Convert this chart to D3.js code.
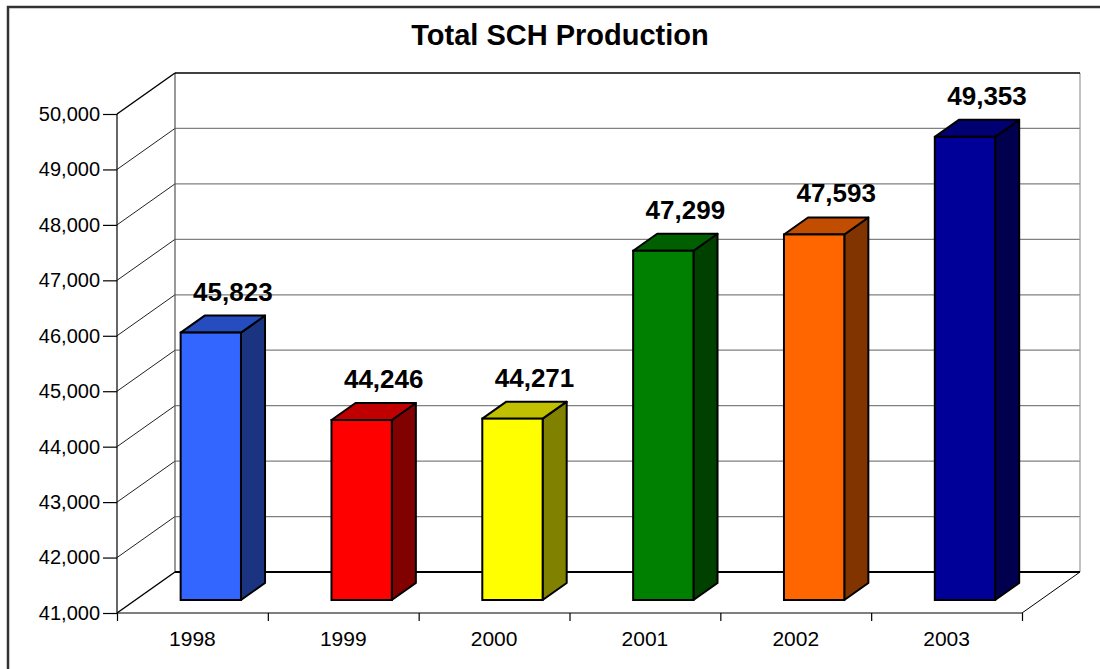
<!DOCTYPE html>
<html>
<head>
<meta charset="utf-8">
<script src="https://cdn.jsdelivr.net/npm/d3@7"></script>
<style>
  body { margin: 0; background: #fff; }
  svg { display: block; font-family: Arial, "Liberation Sans", sans-serif; }
</style>
</head>
<body>
<script>
// chart data
var years = ["1998", "1999", "2000", "2001", "2002", "2003"];
var sch = [45823, 44246, 44271, 47299, 47593, 49353];
var barColors = ["#3366FF", "#FF0000", "#FFFF00", "#008000", "#FF6600", "#000099"];
var yTicks = [41000, 42000, 43000, 44000, 45000, 46000, 47000, 48000, 49000, 50000];

var width = 1100, height = 669;

var svg = d3.select("body").append("svg")
  .attr("width", width)
  .attr("height", height);

// outer frame
svg.append("rect")
  .attr("x", 8).attr("y", 7)
  .attr("width", 1100).attr("height", 680)
  .attr("fill", "#fff")
  .attr("stroke", "#333")
  .attr("stroke-width", 2.5);

svg.append("text")
  .attr("x", 560).attr("y", 45)
  .attr("text-anchor", "middle")
  .attr("font-size", 29)
  .attr("font-weight", "bold")
  .text("Total SCH Production");

// front plane scales, depth is a fake 3d offset
var y = d3.scaleLinear().domain([41000, 50000]).range([613, 114]);
var x = d3.scaleBand().domain(years).range([117, 1022])
  .paddingInner(0.6).paddingOuter(0.3);
var xEdge = d3.scaleLinear().domain([0, years.length]).range([117, 1022]);

var depthX = 58, depthY = -41;
function off(t) { return [depthX * t, depthY * t]; }

var x0 = xEdge(0), x1 = xEdge(years.length);
var yBot = y(41000), yTop = y(50000);
var back = off(1);

// back wall + gridlines
var walls = svg.append("g");

walls.selectAll("line.grid")
  .data(yTicks.slice(1, -1))
  .enter().append("line")
  .attr("class", "grid")
  .attr("x1", x0 + back[0]).attr("x2", x1 + back[0])
  .attr("y1", d => y(d) + back[1]).attr("y2", d => y(d) + back[1])
  .attr("stroke", "#808080").attr("stroke-width", 1.2);

walls.selectAll("line.side")
  .data(yTicks.slice(1, -1))
  .enter().append("line")
  .attr("class", "side")
  .attr("x1", x0).attr("x2", x0 + back[0])
  .attr("y1", d => y(d)).attr("y2", d => y(d) + back[1])
  .attr("stroke", "#222").attr("stroke-width", 1);

// back wall edges
walls.append("line")
  .attr("x1", x0 + back[0]).attr("x2", x0 + back[0])
  .attr("y1", yTop + back[1]).attr("y2", yBot + back[1])
  .attr("stroke", "#555").attr("stroke-width", 1.2);
walls.append("line")
  .attr("x1", x1 + back[0]).attr("x2", x1 + back[0])
  .attr("y1", yTop + back[1]).attr("y2", yBot + back[1])
  .attr("stroke", "#999").attr("stroke-width", 1.2);
walls.append("line")
  .attr("x1", x0 + back[0]).attr("x2", x1 + back[0])
  .attr("y1", yTop + back[1]).attr("y2", yTop + back[1])
  .attr("stroke", "#000").attr("stroke-width", 1.5);
walls.append("line")
  .attr("x1", x0).attr("x2", x0 + back[0])
  .attr("y1", yTop).attr("y2", yTop + back[1])
  .attr("stroke", "#000").attr("stroke-width", 1.5);

// floor
walls.append("line")
  .attr("x1", x0 + back[0]).attr("x2", x1 + back[0])
  .attr("y1", yBot + back[1]).attr("y2", yBot + back[1])
  .attr("stroke", "#000").attr("stroke-width", 2);
walls.append("line")
  .attr("x1", x0).attr("x2", x0 + back[0])
  .attr("y1", yBot).attr("y2", yBot + back[1])
  .attr("stroke", "#000").attr("stroke-width", 1.5);
walls.append("line")
  .attr("x1", x1).attr("x2", x1 + back[0])
  .attr("y1", yBot).attr("y2", yBot + back[1])
  .attr("stroke", "#000").attr("stroke-width", 1);

// bars
var tFront = 13 / 41, tBack = 30 / 41;
var fo = off(tFront), bo = off(tBack);
var dx = bo[0] - fo[0], dy = bo[1] - fo[1];

var data = years.map((d, i) => ({ year: d, value: sch[i], color: barColors[i] }));

var bars = svg.append("g").selectAll("g")
  .data(data)
  .enter().append("g");

function face(d) {
  var l = x(d.year) + fo[0], r = l + x.bandwidth();
  var t = y(d.value) + fo[1], b = yBot + fo[1];
  return { l, r, t, b };
}

bars.append("path")
  .attr("d", d => {
    var f = face(d);
    return `M${f.r},${f.b}L${f.r + dx},${f.b + dy}L${f.r + dx},${f.t + dy}L${f.r},${f.t}Z`;
  })
  .attr("fill", d => d3.color(d.color).darker(1.9))
  .attr("stroke", "#000").attr("stroke-width", 2).attr("stroke-linejoin", "round");

bars.append("path")
  .attr("d", d => {
    var f = face(d);
    return `M${f.l},${f.t}L${f.l + dx},${f.t + dy}L${f.r + dx},${f.t + dy}L${f.r},${f.t}Z`;
  })
  .attr("fill", d => d3.color(d.color).darker(0.8))
  .attr("stroke", "#000").attr("stroke-width", 2).attr("stroke-linejoin", "round");

bars.append("rect")
  .attr("x", d => face(d).l)
  .attr("y", d => face(d).t)
  .attr("width", x.bandwidth())
  .attr("height", d => face(d).b - face(d).t)
  .attr("fill", d => d.color)
  .attr("stroke", "#000").attr("stroke-width", 2);

bars.append("text")
  .attr("x", d => x(d.year) + x.bandwidth() / 2 + bo[0] - 2)
  .attr("y", d => face(d).t + dy - 15)
  .attr("text-anchor", "middle")
  .attr("font-size", 26)
  .attr("font-weight", "bold")
  .text(d => d3.format(",")(d.value));

// axes on the front plane
var yAxis = svg.append("g")
  .attr("transform", `translate(${x0},0)`)
  .call(d3.axisLeft(y).tickValues(yTicks).tickSize(14).tickPadding(3)
    .tickFormat(d3.format(",")));
yAxis.selectAll("text").attr("font-size", 20).attr("fill", "#000").attr("font-family", null);
yAxis.selectAll("line, path").attr("stroke", "#000").attr("stroke-width", 1.2);
yAxis.select(".domain").attr("d", `M0,${yBot}V${yTop}`);

var xAxis = svg.append("g")
  .attr("transform", `translate(0,${yBot})`)
  .call(d3.axisBottom(xEdge).tickValues(d3.range(years.length + 1))
    .tickSize(8).tickFormat(""));
xAxis.selectAll("line, path").attr("stroke", "#000").attr("stroke-width", 1.2);
xAxis.select(".domain").attr("d", `M${x0},0H${x1}`);

svg.append("g").selectAll("text")
  .data(years)
  .enter().append("text")
  .attr("x", d => x(d) + x.bandwidth() / 2)
  .attr("y", 646)
  .attr("text-anchor", "middle")
  .attr("font-size", 21)
  .text(d => d);
</script>
</body>
</html>
